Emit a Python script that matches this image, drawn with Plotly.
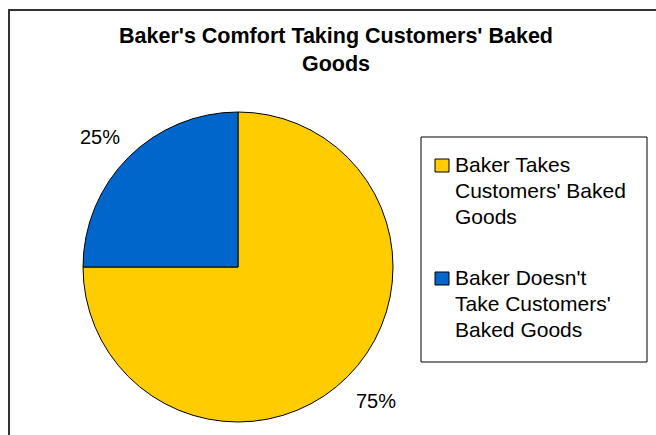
import math
import plotly.graph_objects as go

# Chart data
title_lines = ["Baker's Comfort Taking Customers' Baked", "Goods"]
categories = ["Baker Takes Customers' Baked Goods",
              "Baker Doesn't Take Customers' Baked Goods"]
legend_lines = [["Baker Takes", "Customers' Baked", "Goods"],
                ["Baker Doesn't", "Take Customers'", "Baked Goods"]]
shares = [75, 25]
slice_colors = ["#FFCC00", "#0066CC"]

W, H = 656, 435
FONT = "Liberation Sans, Arial, sans-serif"
cx, cy, r = 238, 267, 155  # pie centre and radius in pixels


def px(x):
    return x / W


def py(y):
    return 1 - y / H


fig = go.Figure(go.Pie(
    labels=categories,
    values=shares,
    sort=False,
    direction="clockwise",
    rotation=0,
    marker=dict(colors=slice_colors, line=dict(color="#000000", width=1)),
    textinfo="none",
    domain=dict(x=[px(cx - r), px(cx + r)], y=[py(cy + r), py(cy - r)]),
    showlegend=False,
))

annotations = []
shapes = []

# Title, one annotation per line, anchored on the baseline
for k, t in enumerate(title_lines):
    base = 45 + 28 * k
    annotations.append(dict(
        x=px(336), y=py(base + 5), xref="paper", yref="paper",
        text=f"<b>{t}</b>", showarrow=False,
        xanchor="center", yanchor="bottom",
        font=dict(family=FONT, size=21.5, color="#000000"),
    ))

# Percentage labels placed outside each slice, along the slice's mid-angle
total = sum(shares)
start = 0.0
for v in shares:
    frac = v / total
    mid = (start + frac / 2) * 2 * math.pi  # clockwise from 12 o'clock
    lx = cx + 195 * math.sin(mid)
    ly = cy - 186 * math.cos(mid) + 2
    annotations.append(dict(
        x=px(lx), y=py(ly), xref="paper", yref="paper",
        text=f"{round(frac * 100)}%", showarrow=False,
        xanchor="center", yanchor="middle",
        font=dict(family=FONT, size=20, color="#000000"),
    ))
    start += frac

# Legend box
shapes.append(dict(type="rect", xref="paper", yref="paper",
                   x0=px(421), x1=px(647), y0=py(362), y1=py(137),
                   line=dict(color="#000000", width=1), fillcolor="#FFFFFF",
                   layer="below"))

entry_first_baseline = [173, 286]
line_step = 26
for i, lines in enumerate(legend_lines):
    b0 = entry_first_baseline[i]
    shapes.append(dict(type="rect", xref="paper", yref="paper",
                       x0=px(435), x1=px(449), y0=py(b0 - 1), y1=py(b0 - 14),
                       line=dict(color="#000000", width=1),
                       fillcolor=slice_colors[i]))
    for j, t in enumerate(lines):
        base = b0 + j * line_step
        annotations.append(dict(
            x=px(453), y=py(base + 5), xref="paper", yref="paper",
            text=t, showarrow=False, xanchor="left", yanchor="bottom",
            font=dict(family=FONT, size=21, color="#000000"),
        ))

# Outer chart frame
shapes.append(dict(type="rect", xref="paper", yref="paper",
                   x0=px(9), x1=1.05, y0=-0.05, y1=py(10),
                   line=dict(color="#333333", width=2)))

fig.update_layout(
    width=W, height=H,
    margin=dict(l=0, r=0, t=0, b=0),
    paper_bgcolor="#FFFFFF",
    font=dict(family=FONT, color="#000000"),
    annotations=annotations,
    shapes=shapes,
)

fig.write_html("out.html")
